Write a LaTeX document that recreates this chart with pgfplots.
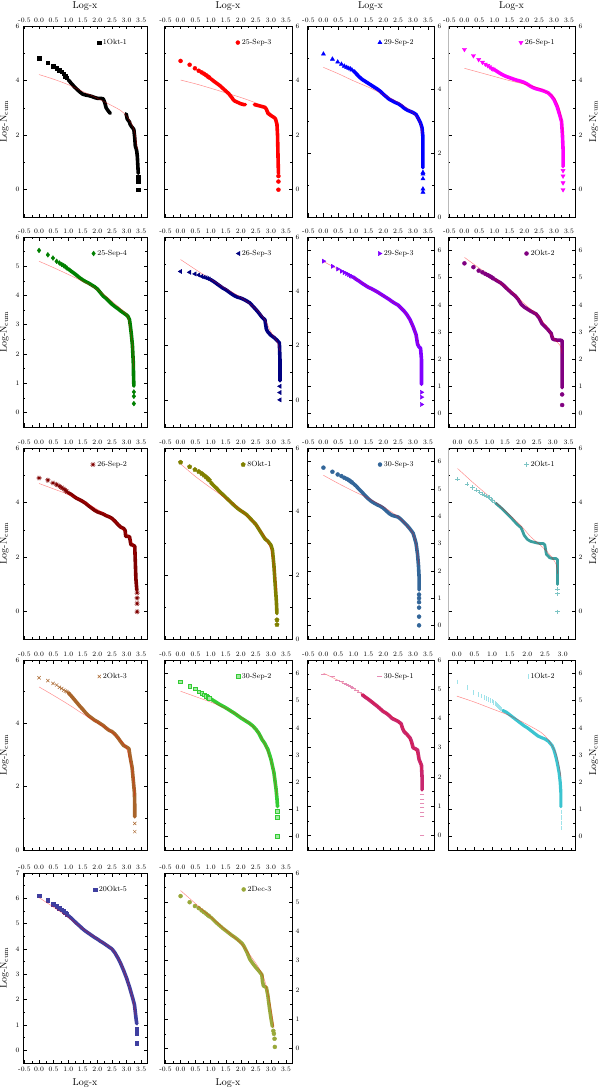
\documentclass[border=0pt]{standalone}
\usepackage{pgfplots}
\pgfplotsset{compat=1.18}
\definecolor{cA}{HTML}{000000}
\definecolor{cB}{HTML}{FF0000}
\definecolor{cC}{HTML}{0000FF}
\definecolor{cD}{HTML}{FF00FF}
\definecolor{cE}{HTML}{008000}
\definecolor{cF}{HTML}{000080}
\definecolor{cG}{HTML}{8000FF}
\definecolor{cH}{HTML}{800080}
\definecolor{cI}{HTML}{800000}
\definecolor{cJ}{HTML}{808000}
\definecolor{cK}{HTML}{336699}
\definecolor{cL}{HTML}{3A9E9E}
\definecolor{cLh}{HTML}{7CC4C4}
\definecolor{cM}{HTML}{A8642A}
\definecolor{cN}{HTML}{33CC33}
\definecolor{cO}{HTML}{C8286E}
\definecolor{cOh}{HTML}{E58DB5}
\definecolor{cP}{HTML}{3CC4D0}
\definecolor{cPh}{HTML}{9FE3EA}
\definecolor{cQ}{HTML}{3F3FA0}
\definecolor{cR}{HTML}{99A83A}
\pgfplotsset{
  panel/.style={scale only axis, anchor=north west, xmin=-0.55, xmax=3.7,
    xtick distance=0.5, minor x tick num=1, minor y tick num=1,
    tick align=inside, tick pos=both,
    major tick length=3.5bp, minor tick length=2bp,
    every tick/.append style={black, line width=0.45pt},
    axis line style={line width=0.6pt},
    tick label style={font=\fontsize{6.8}{7}\selectfont},
    x tick label style={/pgf/number format/assume math mode=true, /pgf/number format/fixed, /pgf/number format/fixed zerofill, /pgf/number format/precision=1},
    y tick label style={/pgf/number format/assume math mode=true},
    label style={font=\fontsize{7.5}{8}\selectfont},
    xlabel near ticks, ylabel near ticks,
    legend style={draw=none, fill=none, font=\fontsize{7.5}{8}\selectfont, at={(0.86,0.945)}, anchor=north east, inner sep=0.5pt},
    legend cell align=left,
  },
  botlabel/.style={clip mode=individual, xlabel={Log-x}, xlabel style={at={(0.5,0)}, anchor=north, yshift=-12.5bp}},
  fitc/.style={red, opacity=0.45, line width=0.5bp, forget plot, smooth, mark=none},
  bodyc/.style={line width=3.6bp, forget plot, mark=none, line join=round, line cap=round},
}
\tikzset{bl/.style={font=\fontsize{6.8}{7}\selectfont, anchor=north, yshift=-2.5bp, inner sep=1pt}}
\begin{document}
\begin{tikzpicture}
\useasboundingbox (0,0) rectangle (599bp,-1090bp);
% ---------- Row 1 ----------
\begin{axis}[panel, width=124bp, height=191bp, at={(23bp,-26bp)}, ymin=-1, ymax=6, ytick distance=2,
  xticklabel pos=right, yticklabel pos=left, xlabel={Log-x}, ylabel={Log-N$_{\mathrm{cum}}$}]
\addplot[bodyc, cA] coordinates {(1.0,4.03)(1.05,3.97)(1.1,3.9)(1.15,3.85)(1.2,3.78)(1.3,3.68)(1.4,3.58)(1.5,3.5)(1.6,3.47)(1.7,3.45)(1.8,3.42)(1.9,3.38)(2.0,3.35)(2.1,3.35)(2.2,3.33)(2.25,3.2)(2.3,3.0)(2.35,2.92)(2.4,2.85)(2.44,2.8)};
\addplot[bodyc, cA] coordinates {(2.98,2.78)(3.0,2.72)(3.02,2.6)(3.05,2.55)(3.1,2.48)(3.12,2.4)(3.18,2.3)(3.22,2.25)(3.25,2.2)(3.28,1.9)(3.3,1.6)(3.33,1.5)(3.35,1.4)(3.37,1.2)(3.38,1.0)(3.39,0.8)(3.4,0.6)};
\addplot[only marks, mark=square*, mark size=1.8bp, cA] coordinates {(0,4.82)(0.301,4.65)(0.477,4.52)(0.602,4.45)(0.699,4.38)(0.778,4.32)(0.845,4.25)(0.903,4.17)(0.954,4.1)(3.4,0.45)(3.4,0.3)(3.4,0.0)};
\addlegendentry{1Okt-1}
\addplot[fitc] coordinates {(0,4.22)(0.5,4.05)(1.0,3.85)(1.5,3.6)(2.0,3.35)(2.5,3.08)(2.8,2.9)(3.0,2.7)(3.2,2.35)(3.3,2.0)(3.37,1.5)};
\end{axis}
\begin{axis}[panel, width=128bp, height=191bp, at={(164bp,-26bp)}, ymin=-1, ymax=6, ytick distance=2,
  xticklabel pos=right, yticklabel pos=right, xlabel={Log-x}]
\addplot[bodyc, cB] coordinates {(1.0,4.07)(1.1,3.98)(1.2,3.9)(1.3,3.82)(1.4,3.72)(1.5,3.62)(1.6,3.52)(1.7,3.38)(1.75,3.3)(1.8,3.25)(1.9,3.2)(2.0,3.15)(2.1,3.12)(2.15,3.12)};
\addplot[bodyc, cB] coordinates {(2.45,3.12)(2.6,3.08)(2.7,3.05)(2.8,3.02)(2.85,2.95)(2.9,2.8)(3.0,2.72)(3.1,2.65)(3.15,2.6)(3.2,2.4)(3.22,2.0)(3.23,1.5)(3.24,1.0)(3.25,0.6)};
\addplot[only marks, mark=*, mark size=2bp, cB] coordinates {(0,4.72)(0.301,4.58)(0.477,4.45)(0.602,4.36)(0.699,4.3)(0.778,4.25)(0.845,4.2)(0.903,4.15)(0.954,4.11)(3.25,0.5)(3.25,0.3)(3.25,0.0)};
\addlegendentry{25-Sep-3}
\addplot[fitc] coordinates {(0,4.02)(0.5,3.88)(1.0,3.72)(1.5,3.55)(2.0,3.38)(2.5,3.18)(2.8,3.0)(3.0,2.8)(3.15,2.55)(3.22,2.2)};
\end{axis}
\begin{axis}[panel, width=127bp, height=191bp, at={(307bp,-26bp)}, ymin=0, ymax=6, ytick distance=2,
  xticklabel pos=right, yticklabel pos=right, xlabel={Log-x}]
\addplot[bodyc, cC] coordinates {(1.0,4.6)(1.1,4.5)(1.2,4.4)(1.3,4.32)(1.4,4.26)(1.5,4.2)(1.6,4.14)(1.7,4.08)(1.8,4.02)(1.9,3.95)(2.0,3.86)(2.1,3.78)(2.2,3.7)(2.3,3.65)(2.4,3.6)(2.5,3.56)(2.6,3.5)(2.7,3.42)(2.8,3.36)(2.9,3.32)(3.0,3.28)(3.1,3.22)(3.2,3.05)(3.25,2.95)(3.3,2.8)(3.33,2.5)(3.33,2.0)(3.33,1.55)};
\addplot[only marks, mark=triangle*, mark size=2.4bp, cC] coordinates {(0,5.12)(0.301,4.96)(0.477,4.87)(0.602,4.8)(0.699,4.74)(0.778,4.7)(0.845,4.67)(0.903,4.65)(0.954,4.62)(3.33,1.4)(3.33,1.35)(3.33,1.2)(3.33,0.88)(3.33,0.78)};
\addlegendentry{29-Sep-2}
\addplot[fitc] coordinates {(0,4.7)(0.5,4.5)(1.0,4.28)(1.5,4.08)(2.0,3.85)(2.5,3.6)(2.9,3.35)(3.2,3.05)(3.3,2.6)};
\end{axis}
\begin{axis}[panel, width=127bp, height=191bp, at={(448bp,-26bp)}, ymin=-1, ymax=6, ytick distance=2,
  xticklabel pos=right, yticklabel pos=right, xlabel={Log-x}, ylabel={Log-N$_{\mathrm{cum}}$}]
\draw[gray!55, line width=1.6bp] (rel axis cs:0,0) -- (rel axis cs:0,1);
\addplot[bodyc, cD] coordinates {(1.0,4.4)(1.1,4.33)(1.2,4.26)(1.3,4.2)(1.4,4.15)(1.5,4.11)(1.6,4.07)(1.7,4.03)(1.8,4.0)(1.9,3.97)(2.0,3.93)(2.1,3.87)(2.2,3.8)(2.3,3.74)(2.4,3.7)(2.5,3.67)(2.6,3.64)(2.7,3.6)(2.8,3.55)(2.9,3.45)(3.0,3.3)(3.1,3.05)(3.2,2.7)(3.25,2.5)(3.28,2.0)(3.3,1.5)(3.3,0.85)};
\addplot[only marks, mark=triangle*, mark size=2.4bp, mark options={rotate=180}, cD] coordinates {(0,5.14)(0.301,4.91)(0.477,4.77)(0.602,4.67)(0.699,4.6)(0.778,4.55)(0.845,4.5)(0.903,4.45)(0.954,4.42)(3.3,0.7)(3.3,0.5)(3.3,0.25)(3.3,0.0)};
\addlegendentry{26-Sep-1}
\addplot[fitc] coordinates {(0,4.45)(0.5,4.3)(1.0,4.15)(1.5,4.0)(2.0,3.87)(2.5,3.72)(2.8,3.55)(3.0,3.38)(3.2,2.9)(3.3,2.0)};
\end{axis}
% ---------- Row 2 ----------
\begin{axis}[panel, width=124bp, height=190bp, at={(23bp,-237bp)}, ymin=-0.5, ymax=6, ytick distance=1,
  xticklabel pos=right, yticklabel pos=left, ylabel={Log-N$_{\mathrm{cum}}$}]
\addplot[bodyc, cE] coordinates {(1.0,4.91)(1.1,4.83)(1.2,4.76)(1.3,4.68)(1.4,4.6)(1.5,4.53)(1.6,4.47)(1.7,4.42)(1.8,4.36)(1.9,4.3)(2.0,4.22)(2.1,4.1)(2.2,3.98)(2.3,3.9)(2.4,3.8)(2.5,3.7)(2.6,3.62)(2.7,3.55)(2.8,3.47)(2.9,3.4)(3.0,3.33)(3.05,3.28)(3.1,3.17)(3.13,2.95)(3.16,2.7)(3.2,2.3)(3.23,1.7)(3.24,1.2)(3.25,0.9)};
\addplot[only marks, mark=diamond*, mark size=2.4bp, cE] coordinates {(0,5.54)(0.301,5.39)(0.477,5.28)(0.602,5.17)(0.699,5.11)(0.778,5.06)(0.845,5.02)(0.903,4.98)(0.954,4.94)(3.25,0.7)(3.25,0.55)(3.25,0.3)};
\addlegendentry{25-Sep-4}
\addplot[fitc] coordinates {(0,5.17)(0.5,4.95)(1.0,4.72)(1.5,4.48)(2.0,4.2)(2.5,3.8)(3.0,3.35)(3.1,3.0)(3.2,2.3)(3.25,1.5)};
\end{axis}
\begin{axis}[panel, width=128bp, height=190bp, at={(164bp,-237bp)}, ymin=-1, ymax=6, ytick distance=2,
  xticklabel pos=right, yticklabel pos=right]
\addplot[bodyc, cF] coordinates {(1.0,4.43)(1.1,4.36)(1.2,4.28)(1.3,4.2)(1.4,4.12)(1.5,4.06)(1.6,3.98)(1.7,3.9)(1.8,3.83)(1.9,3.78)(2.0,3.75)(2.1,3.7)(2.2,3.64)(2.3,3.57)(2.4,3.45)(2.5,3.33)(2.6,3.2)(2.7,3.05)(2.8,2.95)(2.85,2.6)(2.9,2.5)(3.0,2.38)(3.1,2.3)(3.2,2.2)(3.28,2.1)(3.3,1.5)(3.3,0.7)};
\addplot[only marks, mark=triangle*, mark size=2.4bp, mark options={rotate=90}, cF] coordinates {(0,4.73)(0.301,4.7)(0.477,4.64)(0.602,4.6)(0.699,4.55)(0.778,4.52)(0.845,4.5)(0.903,4.47)(0.954,4.45)(3.3,0.5)(3.3,0.27)(3.3,0.0)};
\addlegendentry{26-Sep-3}
\addplot[fitc] coordinates {(0,5.17)(0.5,4.8)(1.0,4.45)(1.5,4.1)(2.0,3.78)(2.5,3.35)(2.8,2.95)(3.0,2.5)(3.2,2.15)(3.3,1.8)};
\end{axis}
\begin{axis}[panel, width=127bp, height=190bp, at={(307bp,-237bp)}, ymin=-0.5, ymax=6.5, ytick distance=1,
  xticklabel pos=right, yticklabel pos=right]
\addplot[bodyc, cG] coordinates {(1.0,5.02)(1.1,4.94)(1.2,4.87)(1.3,4.79)(1.4,4.72)(1.5,4.65)(1.6,4.6)(1.7,4.54)(1.8,4.48)(1.9,4.41)(2.0,4.34)(2.1,4.27)(2.2,4.2)(2.3,4.12)(2.4,4.05)(2.5,3.99)(2.6,3.88)(2.7,3.77)(2.8,3.63)(2.9,3.45)(3.0,3.2)(3.1,2.9)(3.15,2.55)(3.2,2.45)(3.25,2.4)(3.28,2.0)(3.28,1.5)(3.28,1.07)};
\addplot[only marks, mark=triangle*, mark size=2.4bp, mark options={rotate=-90}, cG] coordinates {(0,5.61)(0.301,5.42)(0.477,5.32)(0.602,5.24)(0.699,5.19)(0.778,5.15)(0.845,5.11)(0.903,5.07)(0.954,5.05)(3.28,0.78)(3.28,0.6)(3.28,0.33)};
\addlegendentry{29-Sep-3}
\addplot[fitc] coordinates {(0,5.6)(0.5,5.3)(1.0,5.02)(1.5,4.66)(2.0,4.34)(2.5,3.98)(2.8,3.62)(3.0,3.2)(3.2,2.5)};
\end{axis}
\begin{axis}[panel, width=127bp, height=190bp, at={(448bp,-237bp)}, ymin=-0.5, ymax=6.5, ytick distance=1,
  xticklabel pos=right, yticklabel pos=right, ylabel={Log-N$_{\mathrm{cum}}$}]
\addplot[bodyc, cH] coordinates {(1.0,4.95)(1.1,4.88)(1.2,4.82)(1.3,4.73)(1.4,4.62)(1.5,4.52)(1.6,4.42)(1.7,4.33)(1.8,4.2)(1.9,4.02)(2.0,3.92)(2.1,3.85)(2.2,3.78)(2.3,3.72)(2.4,3.66)(2.5,3.52)(2.6,3.3)(2.7,3.2)(2.8,3.08)(2.9,2.95)(2.95,2.75)(3.0,2.72)(3.1,2.7)(3.2,2.7)(3.27,2.68)(3.27,2.0)(3.27,1.5)(3.27,0.95)};
\addplot[only marks, mark=*, mark size=2bp, cH] coordinates {(0,5.53)(0.301,5.39)(0.477,5.26)(0.602,5.2)(0.699,5.14)(0.778,5.1)(0.845,5.06)(0.903,5.02)(0.954,4.98)(3.27,0.7)(3.27,0.31)};
\addlegendentry{2Okt-2}
\addplot[fitc] coordinates {(0,5.75)(0.5,5.35)(1.0,4.98)(1.5,4.55)(2.0,4.05)(2.5,3.55)(2.8,3.1)(3.0,2.75)(3.2,2.5)(3.27,2.2)};
\end{axis}
% ---------- Row 3 ----------
\begin{axis}[panel, width=124bp, height=191bp, at={(23bp,-448bp)}, ymin=-1, ymax=6, ytick distance=2,
  xticklabel pos=right, yticklabel pos=left, ylabel={Log-N$_{\mathrm{cum}}$}]
\addplot[bodyc, cI] coordinates {(1.0,4.36)(1.1,4.3)(1.2,4.22)(1.3,4.15)(1.4,4.1)(1.5,4.04)(1.6,3.97)(1.7,3.88)(1.8,3.8)(1.9,3.72)(2.0,3.66)(2.1,3.62)(2.2,3.58)(2.3,3.52)(2.4,3.48)(2.5,3.42)(2.6,3.32)(2.7,3.2)(2.8,3.1)(2.9,3.05)(2.95,2.98)(2.97,2.76)(3.05,2.76)(3.1,2.75)(3.15,2.45)(3.2,2.45)(3.28,2.4)(3.3,1.8)(3.32,1.2)(3.35,0.8)};
\addplot[only marks, mark=10-pointed star, mark size=2.6bp, cI] coordinates {(0,4.9)(0.301,4.82)(0.477,4.72)(0.602,4.66)(0.699,4.6)(0.778,4.55)(0.845,4.5)(0.903,4.45)(0.954,4.4)(3.36,0.7)(3.36,0.5)(3.36,0.3)(3.36,0.0)};
\addlegendentry{26-Sep-2}
\addplot[fitc] coordinates {(0,4.7)(0.5,4.5)(1.0,4.3)(1.5,4.05)(2.0,3.75)(2.5,3.4)(2.8,3.1)(3.0,2.85)(3.2,2.5)(3.3,2.0)};
\end{axis}
\begin{axis}[panel, width=128bp, height=191bp, at={(164bp,-448bp)}, ymin=0, ymax=6, ytick distance=2,
  xticklabel pos=right, yticklabel pos=right]
\addplot[bodyc, cJ] coordinates {(1.0,4.92)(1.1,4.82)(1.2,4.73)(1.3,4.63)(1.4,4.54)(1.5,4.45)(1.6,4.36)(1.7,4.27)(1.8,4.18)(1.9,4.1)(2.0,4.03)(2.1,3.97)(2.2,3.9)(2.3,3.8)(2.4,3.7)(2.5,3.6)(2.6,3.45)(2.7,3.3)(2.8,3.15)(2.9,3.07)(3.0,2.95)(3.05,2.8)(3.1,2.3)(3.15,1.6)(3.18,1.2)(3.2,0.8)};
\addplot[only marks, mark=pentagon*, mark size=2.3bp, cJ] coordinates {(0,5.55)(0.301,5.41)(0.477,5.32)(0.602,5.26)(0.699,5.2)(0.778,5.14)(0.845,5.09)(0.903,5.04)(0.954,4.99)(3.2,0.6)(3.2,0.45)};
\addlegendentry{8Okt-1}
\addplot[fitc] coordinates {(0,5.5)(0.5,5.1)(1.0,4.75)(1.5,4.42)(2.0,4.05)(2.5,3.6)(2.8,3.2)(3.0,2.8)(3.1,2.3)(3.2,1.5)};
\end{axis}
\begin{axis}[panel, width=127bp, height=191bp, at={(307bp,-448bp)}, ymin=-0.5, ymax=6.5, ytick distance=1,
  xticklabel pos=right, yticklabel pos=right]
\addplot[bodyc, cK] coordinates {(1.0,5.2)(1.1,5.1)(1.2,4.98)(1.3,4.87)(1.4,4.75)(1.5,4.64)(1.6,4.55)(1.7,4.48)(1.8,4.42)(1.9,4.37)(2.0,4.3)(2.1,4.2)(2.2,4.1)(2.3,4.03)(2.4,4.0)(2.5,3.97)(2.6,3.88)(2.7,3.77)(2.8,3.66)(2.9,3.53)(3.0,3.38)(3.05,3.2)(3.1,3.0)(3.15,2.6)(3.18,2.2)(3.2,1.8)(3.2,1.3)};
\addplot[only marks, mark=*, mark size=2bp, cK] coordinates {(0,5.78)(0.301,5.63)(0.477,5.53)(0.602,5.47)(0.699,5.41)(0.778,5.37)(0.845,5.33)(0.903,5.28)(0.954,5.24)(3.2,1.13)(3.2,1.0)(3.2,0.85)(3.2,0.65)(3.2,0.32)(3.2,0.0)};
\addlegendentry{30-Sep-3}
\addplot[fitc] coordinates {(0,5.5)(0.5,5.2)(1.0,4.92)(1.5,4.66)(2.0,4.35)(2.5,3.98)(2.8,3.65)(3.0,3.35)(3.1,3.0)(3.2,2.2)};
\end{axis}
\begin{axis}[panel, width=127bp, height=191bp, at={(448bp,-448bp)}, xmin=-0.3, ymin=-1, ymax=6, ytick distance=2,
  xticklabel pos=right, yticklabel pos=right, ylabel={Log-N$_{\mathrm{cum}}$}]
\draw[gray!55, line width=1.6bp] (rel axis cs:0,0) -- (rel axis cs:0,1);
\addplot[bodyc, cL, line width=2.8bp] coordinates {(1.2,3.98)(1.3,3.88)(1.4,3.78)(1.5,3.66)(1.6,3.55)(1.7,3.43)(1.8,3.3)(1.9,3.18)(2.0,3.08)(2.05,2.95)(2.1,2.8)(2.2,2.65)(2.3,2.58)(2.4,2.55)(2.5,2.52)(2.6,2.5)(2.7,2.5)(2.75,2.45)(2.8,2.1)(2.85,2.05)(2.9,1.98)(3.0,1.95)(3.1,1.95)(3.15,1.9)(3.15,1.5)(3.15,1.0)};
\addplot[only marks, mark=+, mark size=2.2bp, mark options={line width=0.5pt}, cLh] coordinates {(0,4.86)(0.301,4.67)(0.477,4.55)(0.602,4.45)(0.699,4.38)(0.778,4.32)(0.845,4.28)(0.903,4.24)(0.954,4.2)(1.0,4.18)(1.05,4.12)(1.1,4.08)(1.15,4.03)(3.15,0.84)(3.15,0.66)(3.15,0.0)};
\addlegendentry{2Okt-1}
\addplot[fitc] coordinates {(0,5.25)(0.5,4.72)(1.0,4.22)(1.5,3.7)(2.0,3.15)(2.3,2.75)(2.6,2.45)(2.9,2.1)(3.1,1.75)(3.15,1.4)};
\end{axis}
% ---------- Row 4 ----------
\begin{axis}[panel, width=124bp, height=190bp, at={(23bp,-660bp)}, ymin=0, ymax=6, ytick distance=2,
  xticklabel pos=right, yticklabel pos=left, ylabel={Log-N$_{\mathrm{cum}}$}]
\addplot[bodyc, cM] coordinates {(1.0,4.97)(1.1,4.87)(1.2,4.76)(1.3,4.65)(1.4,4.54)(1.5,4.44)(1.6,4.33)(1.7,4.24)(1.8,4.17)(1.9,4.1)(2.0,4.05)(2.1,3.99)(2.2,3.93)(2.3,3.85)(2.4,3.78)(2.5,3.74)(2.6,3.66)(2.7,3.55)(2.8,3.42)(2.9,3.3)(3.0,3.25)(3.08,3.2)(3.12,2.95)(3.19,2.6)(3.23,2.2)(3.27,1.8)(3.28,1.4)(3.28,1.05)};
\addplot[only marks, mark=x, mark size=2.3bp, mark options={line width=0.5pt}, cM] coordinates {(0,5.44)(0.301,5.35)(0.477,5.26)(0.602,5.21)(0.699,5.14)(0.778,5.1)(0.845,5.05)(0.903,5.02)(0.954,5.0)(3.28,0.84)(3.28,0.58)};
\addlegendentry{2Okt-3}
\addplot[fitc] coordinates {(0,5.15)(0.5,4.88)(1.0,4.6)(1.5,4.3)(2.0,4.03)(2.5,3.72)(2.8,3.45)(3.0,3.2)(3.2,2.5)(3.28,1.7)};
\end{axis}
\begin{axis}[panel, width=128bp, height=190bp, at={(164bp,-660bp)}, ymin=-0.5, ymax=6.5, ytick distance=1,
  xticklabel pos=right, yticklabel pos=right]
\addplot[bodyc, cN] coordinates {(1.0,5.07)(1.1,5.0)(1.2,4.93)(1.3,4.86)(1.4,4.8)(1.5,4.74)(1.6,4.67)(1.7,4.6)(1.8,4.53)(1.9,4.45)(2.0,4.37)(2.1,4.3)(2.2,4.23)(2.3,4.16)(2.4,4.07)(2.5,3.95)(2.6,3.8)(2.7,3.58)(2.8,3.42)(2.9,3.2)(3.0,2.85)(3.1,2.35)(3.17,1.75)(3.2,1.4)(3.22,1.1)};
\addplot[only marks, mark=square*, mark size=1.9bp, mark options={fill=cN!45, draw=cN}, cN] coordinates {(0,5.7)(0.301,5.54)(0.477,5.44)(0.602,5.33)(0.699,5.27)(0.778,5.22)(0.845,5.18)(0.903,5.14)(0.954,5.1)(3.22,0.92)(3.22,0.7)(3.22,0.0)};
\addlegendentry{30-Sep-2}
\addplot[fitc] coordinates {(0,5.35)(0.5,5.15)(1.0,4.95)(1.5,4.72)(2.0,4.4)(2.5,3.95)(2.8,3.4)(3.0,2.8)(3.1,2.3)(3.2,1.5)};
\end{axis}
\begin{axis}[panel, width=127bp, height=190bp, at={(307bp,-660bp)}, ymin=-0.5, ymax=6, ytick distance=1,
  xticklabel pos=right, yticklabel pos=right]
\addplot[bodyc, cO] coordinates {(1.3,4.81)(1.4,4.73)(1.5,4.66)(1.6,4.58)(1.7,4.5)(1.8,4.42)(1.9,4.33)(2.0,4.24)(2.1,4.18)(2.2,4.1)(2.3,4.0)(2.4,3.95)(2.5,3.9)(2.6,3.82)(2.65,3.65)(2.7,3.55)(2.8,3.45)(2.9,3.33)(2.95,3.2)(3.0,3.0)(3.1,2.95)(3.15,2.92)(3.2,2.6)(3.28,2.4)(3.3,2.0)(3.3,1.56)};
\addplot[only marks, mark=-, mark size=2.4bp, mark options={line width=0.6pt}, cOh] coordinates {(0,5.52)(0.301,5.43)(0.477,5.32)(0.602,5.27)(0.699,5.22)(0.778,5.17)(0.845,5.13)(0.903,5.1)(0.954,5.06)(1.0,5.03)(1.1,4.95)(1.2,4.88)(3.3,1.4)(3.3,1.25)(3.3,1.1)(3.3,0.95)(3.3,0.8)(3.3,0.65)(3.3,0.0)};
\addlegendentry{30-Sep-1}
\addplot[fitc] coordinates {(0,5.55)(0.5,5.3)(1.0,5.03)(1.5,4.68)(2.0,4.26)(2.5,3.9)(2.8,3.45)(3.0,3.05)(3.2,2.65)(3.3,2.2)};
\end{axis}
\begin{axis}[panel, width=127bp, height=190bp, at={(448bp,-660bp)}, xmin=-0.25, xmax=3.35, ymin=-0.5, ymax=6.5, ytick distance=1,
  xticklabel pos=right, yticklabel pos=right, ylabel={Log-N$_{\mathrm{cum}}$}]
\addplot[bodyc, cP, line width=3.2bp] coordinates {(1.3,4.64)(1.4,4.58)(1.5,4.48)(1.6,4.38)(1.7,4.28)(1.8,4.18)(1.9,4.08)(2.0,4.0)(2.1,3.9)(2.2,3.8)(2.3,3.7)(2.4,3.64)(2.5,3.59)(2.6,3.5)(2.7,3.35)(2.75,3.2)(2.8,2.98)(2.85,2.7)(2.9,2.35)(2.93,2.0)(2.95,1.6)(2.95,1.1)};
\addplot[only marks, mark=|, mark size=2.2bp, mark options={line width=0.6pt}, cPh] coordinates {(0,5.7)(0.301,5.48)(0.477,5.31)(0.602,5.23)(0.699,5.17)(0.778,5.12)(0.845,5.08)(0.903,5.04)(0.954,5.01)(1.0,4.98)(1.04,4.94)(1.08,4.9)(1.11,4.86)(1.15,4.82)(1.18,4.78)(1.2,4.75)(1.23,4.72)(1.26,4.69)(2.95,0.9)(2.95,0.7)(2.95,0.5)(2.95,0.3)};
\addlegendentry{1Okt-2}
\addplot[fitc] coordinates {(0,5.17)(0.5,4.95)(1.0,4.7)(1.5,4.45)(2.0,4.12)(2.4,3.82)(2.6,3.55)(2.8,3.1)(2.9,2.6)(2.95,2.2)};
\end{axis}
% ---------- Row 5 ----------
\begin{axis}[panel, botlabel, width=124bp, height=190bp, at={(23bp,-873bp)}, ymin=-0.5, ymax=7, ytick distance=1,
  xticklabel pos=right, yticklabel pos=left, ylabel={Log-N$_{\mathrm{cum}}$}]
\addplot[bodyc, cQ] coordinates {(1.0,5.32)(1.1,5.22)(1.2,5.11)(1.3,5.0)(1.4,4.9)(1.5,4.79)(1.6,4.7)(1.7,4.62)(1.8,4.54)(1.9,4.46)(2.0,4.39)(2.1,4.31)(2.2,4.24)(2.3,4.16)(2.4,4.08)(2.5,4.0)(2.6,3.85)(2.7,3.65)(2.8,3.42)(2.9,3.15)(3.0,2.85)(3.1,2.5)(3.2,2.1)(3.27,1.8)(3.3,1.5)(3.33,1.2)(3.35,1.05)};
\addplot[only marks, mark=square*, mark size=1.8bp, cQ] coordinates {(0,6.11)(0.301,5.92)(0.477,5.78)(0.602,5.7)(0.699,5.62)(0.778,5.55)(0.845,5.49)(0.903,5.44)(0.954,5.38)(3.35,0.86)(3.35,0.68)(3.35,0.29)};
\addlegendentry{20Okt-5}
\addplot[fitc] coordinates {(0,6.03)(0.5,5.65)(1.0,5.25)(1.5,4.8)(2.0,4.4)(2.5,4.0)(2.8,3.45)(3.0,2.85)(3.2,2.1)(3.3,1.4)};
\node[bl] at (axis cs:-0.5,-0.5) {-0.5};
\node[bl] at (axis cs:0,-0.5) {0.0};
\node[bl] at (axis cs:0.5,-0.5) {0.5};
\node[bl] at (axis cs:1,-0.5) {1.0};
\node[bl] at (axis cs:1.5,-0.5) {1.5};
\node[bl] at (axis cs:2,-0.5) {2.0};
\node[bl] at (axis cs:2.5,-0.5) {2.5};
\node[bl] at (axis cs:3,-0.5) {3.0};
\node[bl] at (axis cs:3.5,-0.5) {3.5};
\end{axis}
\begin{axis}[panel, botlabel, width=128bp, height=190bp, at={(164bp,-873bp)}, ymin=-0.5, ymax=6, ytick distance=1,
  xticklabel pos=right, yticklabel pos=right]
\addplot[bodyc, cR] coordinates {(1.0,4.49)(1.1,4.39)(1.2,4.29)(1.3,4.2)(1.4,4.11)(1.5,4.03)(1.6,3.95)(1.7,3.87)(1.8,3.8)(1.9,3.72)(2.0,3.63)(2.05,3.58)(2.1,3.5)(2.2,3.3)(2.3,3.05)(2.4,2.9)(2.5,2.77)(2.6,2.65)(2.7,2.52)(2.72,2.3)(2.75,2.14)(2.85,2.08)(2.9,1.8)(2.95,1.4)(3.0,1.05)(3.05,0.75)};
\addplot[only marks, mark=*, mark size=2bp, cR] coordinates {(0,5.21)(0.301,5.0)(0.477,4.87)(0.602,4.8)(0.699,4.72)(0.778,4.66)(0.845,4.61)(0.903,4.56)(0.954,4.52)(3.08,0.6)(3.1,0.5)(3.12,0.33)(3.13,0.05)};
\addlegendentry{2Dec-3}
\addplot[fitc] coordinates {(0,5.4)(0.5,4.95)(1.0,4.5)(1.5,4.05)(2.0,3.6)(2.3,3.2)(2.6,2.75)(2.8,2.3)(3.0,1.4)(3.1,0.7)};
\node[bl] at (axis cs:-0.5,-0.5) {-0.5};
\node[bl] at (axis cs:0,-0.5) {0.0};
\node[bl] at (axis cs:0.5,-0.5) {0.5};
\node[bl] at (axis cs:1,-0.5) {1.0};
\node[bl] at (axis cs:1.5,-0.5) {1.5};
\node[bl] at (axis cs:2,-0.5) {2.0};
\node[bl] at (axis cs:2.5,-0.5) {2.5};
\node[bl] at (axis cs:3,-0.5) {3.0};
\node[bl] at (axis cs:3.5,-0.5) {3.5};
\end{axis}
\end{tikzpicture}
\end{document}
